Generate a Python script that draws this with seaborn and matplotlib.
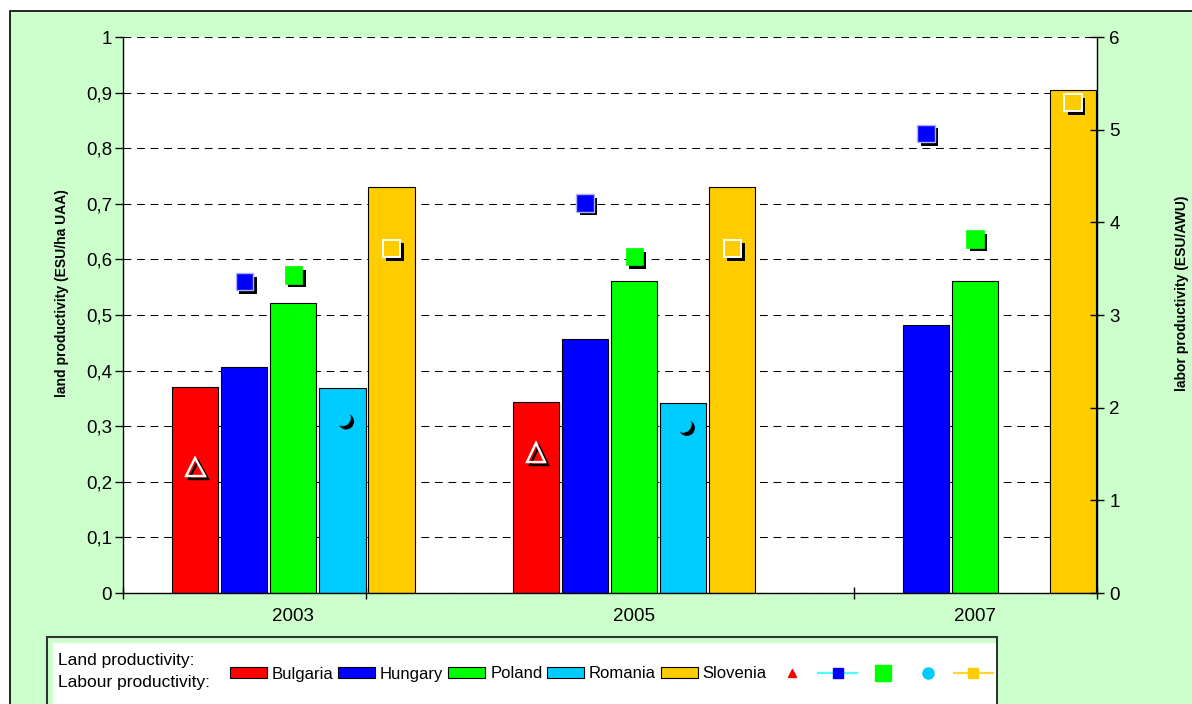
import matplotlib
matplotlib.use("Agg")
import matplotlib.pyplot as plt
import matplotlib.patheffects as pe
from matplotlib.colors import to_hex
from matplotlib.lines import Line2D
from matplotlib.patches import Patch, Rectangle
from matplotlib.ticker import FuncFormatter
import pandas as pd
import seaborn as sns

# ---- data -------------------------------------------------------------
years = ["2003", "2005", "2007"]
countries = ["Bulgaria", "Hungary", "Poland", "Romania", "Slovenia"]
colors = ["#FF0000", "#0000FF", "#00FF00", "#00CCFF", "#FFCC00"]

# land productivity (ESU/ha UAA); None = no data for that year
land_bulgaria = [0.37, 0.344, None]
land_hungary = [0.406, 0.457, 0.482]
land_poland = [0.522, 0.561, 0.561]
land_romania = [0.369, 0.341, None]
land_slovenia = [0.73, 0.73, 0.905]

# labour productivity (ESU/AWU)
labour_bulgaria = [1.36, 1.52, None]
labour_hungary = [3.36, 4.21, 4.96]
labour_poland = [3.43, 3.63, 3.82]
labour_romania = [1.89, 1.82, None]
labour_slovenia = [3.72, 3.72, 5.29]

land = dict(zip(countries, [land_bulgaria, land_hungary, land_poland,
                            land_romania, land_slovenia]))
labour = dict(zip(countries, [labour_bulgaria, labour_hungary, labour_poland,
                              labour_romania, labour_slovenia]))


def to_long(table):
    rows = []
    for c in countries:
        for y, v in zip(years, table[c]):
            if v is not None:
                rows.append({"year": y, "country": c, "value": v})
    return pd.DataFrame(rows)


land_df = to_long(land)
labour_df = to_long(labour)

# ---- figure -----------------------------------------------------------
plt.rcParams["font.family"] = ["Liberation Sans", "DejaVu Sans"]
W, H = 1192, 704
fig = plt.figure(figsize=(W / 100, H / 100), dpi=100, facecolor="white")

# chart area background with frame
fig.patches.append(Rectangle((10 / W, -0.2), 1.5, 1.2 - 11 / H,
                             transform=fig.transFigure, facecolor="#CCFFCC",
                             edgecolor="black", linewidth=1.2, zorder=-5))

ax = fig.add_axes([123 / W, (H - 593) / H, (1097 - 123) / W, (593 - 37) / H])
ax.set_facecolor("white")

bar_width = 0.72
sns.barplot(data=land_df, x="year", y="value", hue="country", order=years,
            hue_order=countries, palette=colors, width=bar_width, gap=0.06,
            saturation=1, edgecolor="black", linewidth=0.8, errorbar=None,
            legend=False, ax=ax)

ax2 = ax.twinx()
sns.pointplot(data=labour_df, x="year", y="value", hue="country", order=years,
              hue_order=countries, palette=colors,
              dodge=bar_width * (len(countries) - 1) / len(countries),
              markers=["^", "s", "s", "o", "s"], linestyle="none",
              markersize=12, errorbar=None, legend=False, ax=ax2)

# per-country marker styling with drop shadows
fill_shadow = [pe.SimplePatchShadow(offset=(2.6, -2.6), shadow_rgbFace="black",
                                    alpha=1), pe.Normal()]
stroke_shadow = [pe.SimpleLineShadow(offset=(2.2, -2.2), shadow_color="black",
                                     alpha=1), pe.Normal()]
marker_style = {
    "Bulgaria": dict(mfc="none", mec="white", mew=1.7, ms=13.5, fx=stroke_shadow),
    "Hungary": dict(mfc="#0000FF", mec="#B0B0FF", mew=1.0, ms=12.5, fx=fill_shadow),
    "Poland": dict(mfc="#00FF00", mec="#00FF00", mew=0.5, ms=12.5, fx=fill_shadow),
    "Romania": dict(mfc="#00CCFF", mec="#00CCFF", mew=0.5, ms=11.5, fx=fill_shadow),
    "Slovenia": dict(mfc="#FFCC00", mec="white", mew=1.4, ms=12.5, fx=fill_shadow),
}
color_to_country = {to_hex(c).lower(): n for n, c in zip(countries, colors)}
for line in ax2.lines:
    name = color_to_country.get(to_hex(line.get_color()).lower())
    if name is None:
        continue
    st = marker_style[name]
    line.set_markerfacecolor(st["mfc"])
    line.set_markeredgecolor(st["mec"])
    line.set_markeredgewidth(st["mew"])
    line.set_markersize(st["ms"])
    line.set_path_effects(st["fx"])

# ---- axes styling -----------------------------------------------------
ax.set_ylim(0, 1)
ax.set_yticks([i / 10 for i in range(11)])
ax.yaxis.set_major_formatter(FuncFormatter(
    lambda v, p: f"{v:.0f}" if abs(v - round(v)) < 1e-9 else f"{v:.1f}".replace(".", ",")))
ax.set_axisbelow(True)
ax.yaxis.grid(True, linestyle=(0, (7.5, 5.5)), color="black", linewidth=0.75)
ax.xaxis.grid(False)

ax2.set_ylim(0, 6)
ax2.set_yticks(range(7))

ax.set_xlim(-0.5, 2.358)
ax.set_xticks(range(len(years)))
ax.set_xticklabels(years)
ax.set_xticks([-0.5, 0.214, 1.645, 2.358], minor=True)
ax.tick_params(axis="x", which="major", length=0, pad=11, labelsize=13.5,
               colors="black")
ax.tick_params(axis="x", which="minor", direction="inout", length=9, width=1)
ax.tick_params(axis="y", direction="out", length=6, width=1, pad=2,
               labelsize=13.5)
ax2.tick_params(axis="y", direction="inout", length=10, width=1, pad=4,
                labelsize=13.5)
ax.set_xlabel("")

for s in ["top", "right"]:
    ax.spines[s].set_visible(False)
for s in ["top", "left", "bottom"]:
    ax2.spines[s].set_visible(False)
ax.spines["left"].set_linewidth(1.0)
ax.spines["bottom"].set_linewidth(1.0)
ax2.spines["right"].set_linewidth(1.0)

ax.set_ylabel("land productivity (ESU/ha UAA)", fontsize=10, fontweight="bold")
ax.yaxis.label.set_verticalalignment("center")
ax.yaxis.set_label_coords((62 - 123) / 974, 0.54)
ax2.set_ylabel("labor productivity (ESU/AWU)", fontsize=10, fontweight="bold")
ax2.yaxis.label.set_verticalalignment("center")
ax2.yaxis.set_label_coords((1182 - 123) / 974, 0.54)

# ---- legend -----------------------------------------------------------
fig.patches.append(Rectangle((47 / W, -0.2), (997 - 47) / W, 0.2 + (H - 637) / H,
                             transform=fig.transFigure, facecolor="#CCFFCC",
                             edgecolor="#333333", linewidth=1.5, zorder=1))
fig.patches.append(Rectangle((53 / W, -0.2), (996 - 53) / W, 0.2 + (H - 643) / H,
                             transform=fig.transFigure, facecolor="white",
                             edgecolor="none", zorder=1.1))
fig.text(58 / W, 1 - 660 / H, "Land productivity:", fontsize=12.5, va="center")
fig.text(58 / W, 1 - 682 / H, "Labour productivity:", fontsize=12.5, va="center")

bar_handles = [Patch(facecolor=c, edgecolor="black", linewidth=0.8) for c in colors]
leg1 = fig.legend(handles=bar_handles, labels=countries, loc="center left",
                  bbox_to_anchor=(230 / W, 1 - 674 / H), ncol=5, frameon=False,
                  fontsize=12, handlelength=2.2, handleheight=0.6,
                  handletextpad=0.3, columnspacing=0.3, borderpad=0,
                  borderaxespad=0)

marker_handles = [
    Line2D([], [], marker="^", linestyle="none", color="#FF0000", markersize=6),
    Line2D([], [], marker="s", color="#4DFFFF", linewidth=1.6,
           markerfacecolor="#0000FF", markeredgecolor="#0000FF", markersize=7),
    Line2D([], [], marker="s", linestyle="none", color="#00FF00", markersize=11),
    Line2D([], [], marker="o", linestyle="none", color="#00CCFF", markersize=8),
    Line2D([], [], marker="s", color="#FFD633", linewidth=1.6,
           markerfacecolor="#FFCC00", markeredgecolor="#FFCC00", markersize=7),
]
leg2 = fig.legend(handles=marker_handles, labels=[""] * 5, loc="center left",
                  bbox_to_anchor=(773 / W, 1 - 674 / H), ncol=5, frameon=False,
                  fontsize=12, handlelength=2.3, handletextpad=0,
                  columnspacing=0.42, borderpad=0, borderaxespad=0)
for lg in (leg1, leg2):
    lg.set_zorder(5)

fig.savefig("out.png", dpi=100, facecolor=fig.get_facecolor())
